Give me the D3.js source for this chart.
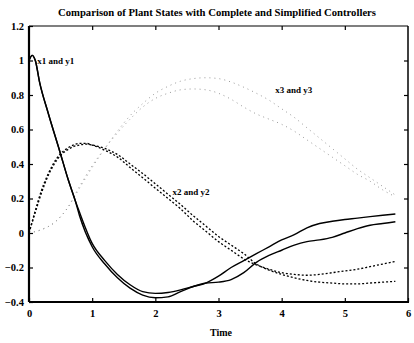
<!DOCTYPE html>
<html><head><meta charset="utf-8">
<script src="https://cdn.jsdelivr.net/npm/d3@7"></script>
<style>html,body{margin:0;padding:0;background:#fff;} svg{display:block;}</style>
</head><body>
<svg id="c" width="414" height="343"></svg>
<script>
const title = "Comparison of Plant States with Complete and Simplified Controllers";
const xLabel = "Time";
const xTicks = [0,1,2,3,4,5,6];
const yTicks = [-0.4,-0.2,0,0.2,0.4,0.6,0.8,1,1.2];

const x1t = [0,0.05,0.1,0.17,0.3,0.49,0.62,0.73,0.8,1.0,1.2,1.4,1.6,1.8,2.0,2.2,2.4,2.6,2.8,3.0,3.2,3.4,3.6,3.8,4.0,4.2,4.4,4.6,4.8,5.0,5.2,5.4,5.6,5.8];
const x1a = [1.0,1.03,1.0,0.87,0.70,0.47,0.31,0.19,0.12,-0.06,-0.16,-0.24,-0.30,-0.34,-0.35,-0.345,-0.33,-0.31,-0.29,-0.25,-0.20,-0.16,-0.12,-0.08,-0.04,-0.01,0.03,0.055,0.068,0.078,0.086,0.095,0.103,0.11];
const x1b = [1.0,1.03,1.0,0.87,0.70,0.47,0.31,0.19,0.10,-0.08,-0.18,-0.26,-0.32,-0.36,-0.375,-0.37,-0.34,-0.31,-0.29,-0.285,-0.27,-0.23,-0.17,-0.13,-0.10,-0.07,-0.05,-0.04,-0.025,0.0,0.025,0.045,0.055,0.065];

const tt = [0,0.1,0.2,0.3,0.4,0.5,0.6,0.7,0.8,0.9,1.0,1.2,1.4,1.6,1.8,2.0,2.2,2.4,2.6,2.8,3.0,3.2,3.4,3.6,3.8,4.0,4.2,4.4,4.6,4.8,5.0,5.2,5.4,5.6,5.8];
const x2a = [0,0.13,0.25,0.34,0.41,0.46,0.49,0.51,0.52,0.52,0.51,0.48,0.44,0.38,0.32,0.26,0.20,0.14,0.07,0.01,-0.05,-0.10,-0.15,-0.185,-0.21,-0.23,-0.24,-0.245,-0.24,-0.23,-0.22,-0.21,-0.195,-0.18,-0.165];
const x2b = [0,0.12,0.235,0.33,0.40,0.45,0.48,0.50,0.51,0.515,0.51,0.49,0.455,0.40,0.345,0.285,0.225,0.165,0.10,0.04,-0.02,-0.07,-0.12,-0.18,-0.215,-0.24,-0.26,-0.275,-0.285,-0.29,-0.295,-0.295,-0.29,-0.285,-0.28];

const t3 = [0,0.2,0.4,0.6,0.8,1.0,1.2,1.4,1.6,1.8,2.0,2.2,2.4,2.6,2.8,3.0,3.2,3.4,3.6,3.8,4.0,4.2,4.4,4.6,4.8,5.0,5.2,5.4,5.6,5.8];
const x3a = [0,0.02,0.06,0.14,0.27,0.39,0.49,0.58,0.66,0.73,0.78,0.81,0.83,0.835,0.83,0.81,0.775,0.73,0.69,0.66,0.63,0.59,0.54,0.49,0.44,0.39,0.34,0.30,0.25,0.21];
const x3b = [0,0.02,0.06,0.14,0.26,0.38,0.49,0.59,0.68,0.75,0.81,0.85,0.88,0.895,0.9,0.895,0.875,0.845,0.81,0.77,0.72,0.67,0.61,0.55,0.49,0.43,0.37,0.32,0.27,0.22];

const svg = d3.select("#c");
const x = d3.scaleLinear().domain([0,6]).range([29,408]);
const y = d3.scaleLinear().domain([-0.4,1.2]).range([302,26]);
const font = "'Liberation Serif', 'Times New Roman', serif";

svg.append("text").attr("x",217).attr("y",16).attr("text-anchor","middle")
  .attr("font-family",font).attr("font-weight","bold").attr("font-size",10.5)
  .attr("textLength",318).attr("lengthAdjust","spacingAndGlyphs").text(title);

const line = (ts) => d3.line().x((d,i)=>x(ts[i])).y(d=>y(d)).curve(d3.curveMonotoneX);

// x3 dotted
[x3a,x3b].forEach(s=>svg.append("path").attr("d",line(t3)(s)).attr("fill","none")
  .attr("stroke","#999").attr("stroke-width",1).attr("stroke-dasharray","1,4"));
// x2 dashed
[x2a,x2b].forEach(s=>svg.append("path").attr("d",line(tt)(s)).attr("fill","none")
  .attr("stroke","#000").attr("stroke-width",1.3).attr("stroke-dasharray","2,2"));
// x1 solid
[x1a,x1b].forEach(s=>svg.append("path").attr("d",line(x1t)(s)).attr("fill","none")
  .attr("stroke","#000").attr("stroke-width",1.4));

// frame
const g = svg.append("g");
g.append("line").attr("x1",x(0)).attr("x2",x(0)).attr("y1",y(1.2)).attr("y2",y(-0.4)).attr("stroke","#000").attr("stroke-width",2.2);
g.append("line").attr("x1",x(0)).attr("x2",x(6)+1).attr("y1",y(-0.4)).attr("y2",y(-0.4)).attr("stroke","#000").attr("stroke-width",1.8);
g.append("line").attr("x1",x(0)).attr("x2",x(6)).attr("y1",y(1.2)).attr("y2",y(1.2)).attr("stroke","#000").attr("stroke-width",1.2);
g.append("line").attr("x1",x(6)).attr("x2",x(6)).attr("y1",y(1.2)).attr("y2",y(-0.4)).attr("stroke","#000").attr("stroke-width",1.5);

// axes with inward ticks
const xb = d3.axisBottom(x).tickValues(xTicks).tickSize(-4).tickPadding(8).tickFormat(d3.format("d"));
svg.append("g").attr("transform",`translate(0,${y(-0.4)})`).call(xb);
const xt = d3.axisTop(x).tickValues(xTicks.slice(1,-1)).tickSize(-4).tickFormat("");
svg.append("g").attr("transform",`translate(0,${y(1.2)})`).call(xt);
const yl = d3.axisLeft(y).tickValues(yTicks).tickSize(-4).tickPadding(5).tickFormat(d=> d===0?"0":d3.format("")(+d.toFixed(1)));
svg.append("g").attr("transform",`translate(${x(0)},0)`).call(yl);
const yr = d3.axisRight(y).tickValues(yTicks.slice(1,-1)).tickSize(-4).tickFormat("");
svg.append("g").attr("transform",`translate(${x(6)},0)`).call(yr);
svg.selectAll(".domain").remove();
svg.selectAll(".tick line").attr("stroke","#000").attr("stroke-width",1.2);
svg.selectAll(".tick text").attr("font-family",font).attr("font-weight","bold").attr("font-size",10.5).attr("fill","#000");

// labels
const lab = (t,px,py)=>svg.append("text").attr("x",px).attr("y",py).attr("font-family",font)
  .attr("font-weight","bold").attr("font-size",9).text(t);
lab("x1 and y1", x(0.13), y(1.0)+3);
lab("x2 and y2", x(2.27), y(0.24)+3);
lab("x3 and y3", x(3.9), y(0.83)+3);

svg.append("text").attr("x",221).attr("y",336).attr("text-anchor","middle").attr("font-family",font)
  .attr("font-weight","bold").attr("font-size",10).text(xLabel);
</script>
</body></html>
